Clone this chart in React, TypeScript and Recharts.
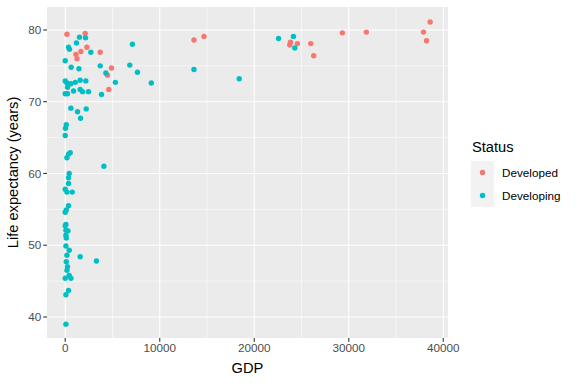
import React from 'react';
import {
  ScatterChart,
  Scatter,
  XAxis,
  YAxis,
  CartesianGrid,
  Label,
} from 'recharts';

const developedGdp = [180, 2110, 2290, 1660, 1130, 1240, 3700, 4890, 4470, 4610, 13620, 14680, 23830, 23760, 24570, 25980, 26290, 29320, 31860, 37910, 38230, 38610];
const developedLife = [79.4, 79.5, 77.6, 77.0, 76.6, 76.0, 76.9, 74.7, 73.7, 71.7, 78.6, 79.1, 78.3, 77.9, 78.1, 78.1, 76.4, 79.6, 79.7, 79.7, 78.5, 81.1];

const developingGdp = [
  1510, 2150, 1190, 350, 450, 2710, 7110, 0, 630, 1450, 3700, 4300, 6830, 7640, 5310, 9110,
  0, 180, 600, 1060, 1580, 2180, 240, 0, 240, 880, 1580, 1830, 2460, 3840, 600, 1300, 2220,
  1620, 110, 30, 0, 350, 180, 530, 4090, 420, 350, 350, 0, 180, 740, 350, 110, 0, 70, 0, 70,
  290, 70, 110, 70, 420, 1580, 3300, 180, 110, 240, 180, 420, 0, 600, 350, 70, 70,
  22570, 24150, 24290, 13620, 18410,
];
const developingLife = [
  79.0, 78.9, 78.2, 77.6, 77.3, 76.9, 78.0, 75.7, 74.8, 74.6, 75.0, 74.0, 75.1, 74.1, 72.7, 72.6,
  72.9, 72.6, 72.5, 72.7, 73.0, 72.9, 72.0, 71.1, 71.1, 71.5, 71.7, 71.4, 71.4, 71.0, 69.1, 68.6, 69.0,
  67.7, 66.8, 66.3, 65.3, 62.7, 62.2, 62.9, 61.0, 60.0, 59.4, 58.6, 57.8, 57.4, 57.4, 55.5, 54.9, 54.6, 52.9, 52.7, 52.1,
  52.0, 51.4, 51.0, 49.9, 49.3, 48.4, 47.8, 48.6, 47.7, 47.0, 46.5, 45.8, 45.4, 45.4, 43.7, 43.1, 39.0,
  78.8, 79.1, 77.5, 74.5, 73.2,
];

const statuses = ['Developed', 'Developing'];
const colors = ['#F8766D', '#00BFC4'];

const xTicks = [0, 10000, 20000, 30000, 40000];
const xMinor = [5000, 15000, 25000, 35000];
const yTicks = [40, 50, 60, 70, 80];
const yMinor = [45, 55, 65, 75];

const developed = developedGdp.map((g, i) => ({ gdp: g, life: developedLife[i] }));
const developing = developingGdp.map((g, i) => ({ gdp: g, life: developingLife[i] }));

const FONT = '"Liberation Sans", Arial, sans-serif';

const dot = (color: string) => (props: any) => (
  <circle cx={props.cx} cy={props.cy} r={2.7} fill={color} />
);

// legend drawn beside the chart, ggplot style
const StatusLegend = () => (
  <svg width={106} height={90} style={{ position: 'absolute', left: 470, top: 130, fontFamily: FONT }}>
    <text x={2} y={22} fontSize={14.67} fill="#000">Status</text>
    {statuses.map((s, i) => (
      <g key={s}>
        <rect x={1} y={31 + i * 23} width={23} height={23} fill="#F2F2F2" />
        <circle cx={12.5} cy={42.5 + i * 23} r={2.7} fill={colors[i]} />
        <text x={32} y={46.5 + i * 23} fontSize={11.7} fill="#000">{s}</text>
      </g>
    ))}
  </svg>
);

export default function App() {
  return (
    <div style={{ position: 'absolute', left: 0, top: 0, width: 576, height: 384, background: '#fff', fontFamily: FONT }}>
      <ScatterChart width={576} height={384} margin={{ top: 7, right: 128, bottom: 0, left: 0 }}>
        <CartesianGrid
          fill="#EBEBEB"
          stroke="#FFFFFF"
          strokeWidth={0.55}
          horizontalValues={yMinor}
          verticalValues={xMinor}
        />
        <CartesianGrid
          stroke="#FFFFFF"
          strokeWidth={1.1}
          horizontalValues={yTicks}
          verticalValues={xTicks}
        />
        <XAxis
          type="number"
          dataKey="gdp"
          domain={[-1930, 40500]}
          ticks={xTicks}
          allowDataOverflow
          height={46}
          axisLine={false}
          tickSize={3.7}
          tickLine={{ stroke: '#333333', strokeWidth: 1.1 }}
          tick={{ fill: '#4D4D4D', fontSize: 11.7, fontFamily: FONT }}
        >
          <Label
            content={() => (
              <text x={247.5} y={373} textAnchor="middle" fontSize={14.67} fontFamily={FONT} fill="#000">GDP</text>
            )}
          />
        </XAxis>
        <YAxis
          type="number"
          dataKey="life"
          domain={[37.07, 83.2]}
          ticks={yTicks}
          allowDataOverflow
          width={47}
          axisLine={false}
          tickSize={3.7}
          tickLine={{ stroke: '#333333', strokeWidth: 1.1 }}
          tick={{ fill: '#4D4D4D', fontSize: 11.7, fontFamily: FONT }}
        >
          <Label
            content={() => (
              <text x={18} y={172.5} transform="rotate(-90 18 172.5)" textAnchor="middle" fontSize={14.67} fontFamily={FONT} fill="#000">
                Life expectancy (years)
              </text>
            )}
          />
        </YAxis>
        <Scatter name="Developed" data={developed} shape={dot(colors[0])} isAnimationActive={false} />
        <Scatter name="Developing" data={developing} shape={dot(colors[1])} isAnimationActive={false} />
      </ScatterChart>
      <StatusLegend />
    </div>
  );
}
